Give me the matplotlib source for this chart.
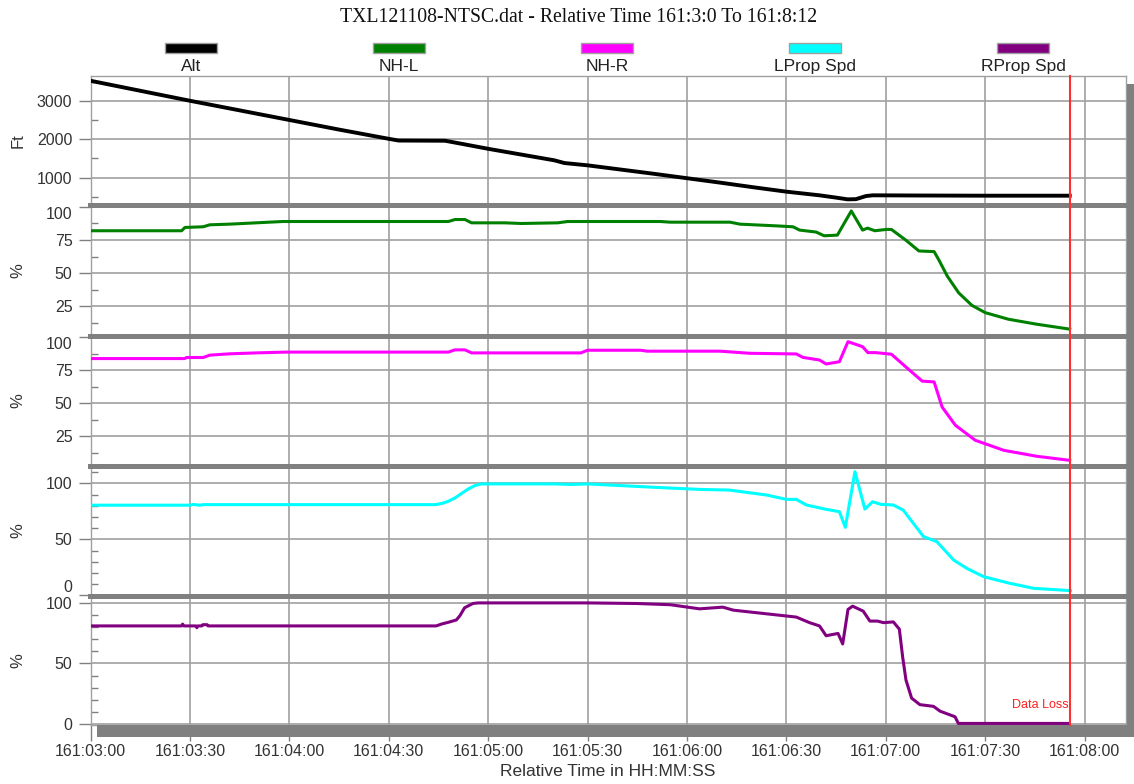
import matplotlib
matplotlib.use("Agg")
import matplotlib.pyplot as plt
from matplotlib.patches import Rectangle
from matplotlib.lines import Line2D
from matplotlib.ticker import MultipleLocator

# ---- data (seconds after 161:03:00) ----
alt_t = [0, 15, 30, 45, 60, 75, 90, 93, 107, 112, 120, 130, 140, 143, 150, 160, 170, 180, 190, 200,
         210, 220, 225, 228.5, 231, 234, 236, 250, 270, 295.5]
alt_v = [3520, 3260, 3000, 2750, 2500, 2250, 2010, 1965, 1960, 1880, 1750, 1600, 1450, 1380, 1320, 1210,
         1100, 985, 870, 750, 635, 540, 480, 435, 440, 520, 540, 535, 530, 530]

nhl_t = [0, 27.5, 28.5, 34, 36, 42, 50, 58, 108, 110, 113, 115, 125, 130, 141, 144, 172, 175, 193, 196,
         207, 212, 214, 219, 221.4, 225.4, 229.6, 233, 234.5, 236.7, 240.2, 241.7, 246, 250, 254.6, 256,
         258.6, 262, 266, 270, 277, 285.5, 295.5]
nhl_v = [82, 82, 84.5, 85, 86.5, 87, 88, 89, 89, 90.5, 90.5, 88, 88, 87.5, 88, 89, 89, 88.5, 88.5, 87,
         85.7, 85, 82.5, 81, 78.2, 78.7, 97, 82.5, 84, 82, 83, 83, 75, 66.7, 66.2, 60,
         47.5, 35, 25.5, 20, 15, 11.25, 7.5]

nhr_t = [0, 28.4, 29, 34, 36, 42, 50, 59, 108, 110, 113, 115, 148, 150, 166, 168, 190, 199, 213, 215,
         220, 222, 226, 228.6, 233, 234.6, 237, 241.7, 246, 251, 254.6, 257, 261, 267, 275.6, 285.5, 295.5]
nhr_v = [83.7, 83.7, 84.5, 84.5, 86.3, 87.3, 88, 88.6, 88.6, 90.3, 90.3, 88, 88, 90, 90, 89.3, 89.3, 87.7,
         87.2, 84.6, 82.6, 79.6, 81.3, 96.5, 92.7, 88.2, 88.2, 87, 77.5, 66.6, 66, 47, 33.2, 21.8, 14.2,
         9.7, 6.6]

lprop_t = [0, 30, 31, 33, 34, 104, 106, 108, 110, 112, 114, 116, 118, 140, 145, 150, 160, 170, 183.8,
           192.8, 204, 210, 213, 216, 222, 226, 227.8, 230.7, 233.7, 236, 238.5, 242.3, 245.3, 251.4,
           255.4, 260.5, 264.5, 269.5, 277.5, 284.6, 295.7]
lprop_v = [80.5, 80.5, 81.2, 80.5, 81, 81, 82, 84, 87, 91, 95, 98, 99.5, 99.5, 99, 99.5, 98, 96.5, 94.6,
           94, 89.6, 85.7, 85.7, 80.7, 76.8, 74.7, 60.7, 110.4, 77, 83.6, 81.25, 80.7, 76, 52.4,
           48, 31.5, 24, 16.7, 10.7, 6.25, 4.2]

rprop_t = [0, 27.5, 27.8, 28.2, 31.8, 32.1, 32.4, 33.6, 33.9, 35.2, 35.5, 104.3, 106, 108, 110.4, 111.5,
           112.9, 115.4, 117, 150, 165, 175, 183.8, 190.8, 194, 204, 213, 217, 220, 222, 225.6, 227,
           228.6, 230, 233.2, 235.2, 237.5, 239.3, 242.3, 244.1, 245.1, 246.1, 247.8, 250.3, 254.4,
           256.4, 260.9, 261.9, 295.2]
rprop_v = [81, 81, 82.5, 81, 81, 79.5, 81, 81, 82, 82, 81, 81, 82.6, 84, 85.9, 89.5, 96, 99.5, 100, 100,
           99.5, 98.5, 95.1, 96.5, 94, 91, 88.3, 83.7, 81, 72.9, 74.8, 66.1, 94.6, 97.3, 93.2, 85, 85,
           83.7, 84.3, 78.3, 55.3, 36.3, 21.4, 16, 14.6, 10.6, 6, 0.5, 0.5]

series_names = ["Alt", "NH-L", "NH-R", "LProp Spd", "RProp Spd"]
series_colors = ["#000000", "#008000", "#ff00ff", "#00ffff", "#800080"]

tick_seconds = [0, 30, 60, 90, 120, 150, 180, 210, 240, 270, 300]
tick_labels = ["161:03:00", "161:03:30", "161:04:00", "161:04:30", "161:05:00", "161:05:30",
               "161:06:00", "161:06:30", "161:07:00", "161:07:30", "161:08:00"]
data_loss_t = 295.5

title = "TXL121108-NTSC.dat - Relative Time 161:3:0 To 161:8:12"

# ---- layout (pixels) ----
W, H = 1134, 784
LEFT, RIGHT = 90.5, 1126
edges = [76, 205, 336, 466, 596, 725]
GRID = "#a0a0a0"
SHADOW = "#808080"
TXT = "#333333"

plt.rcParams["font.family"] = ["Liberation Sans", "DejaVu Sans"]
fig = plt.figure(figsize=(W / 100, H / 100), dpi=100)
fig.patch.set_facecolor("white")


def fig_rect(x0, y0, x1, y1, **kw):
    r = Rectangle((x0 / W, 1 - y1 / H), (x1 - x0) / W, (y1 - y0) / H,
                  transform=fig.transFigure, **kw)
    fig.patches.append(r)
    return r


panels = [
    (alt_t, alt_v, 2.8, (288, 3644), [1000, 2000, 3000], 500, "Ft"),
    (nhl_t, nhl_v, 2.2, (2.3, 101.5), [25, 50, 75, 100], 12.5, "%"),
    (nhr_t, nhr_v, 2.2, (2.3, 100.8), [25, 50, 75, 100], 12.5, "%"),
    (lprop_t, lprop_v, 2.2, (-0.6, 115.5), [0, 50, 100], 10, "%"),
    (rprop_t, rprop_v, 2.2, (-0.8, 105.7), [0, 50, 100], 10, "%"),
]

axes = []
for i, (t, v, lw, ylim, major, minor, ylab) in enumerate(panels):
    top, bot = edges[i], edges[i + 1]
    ax = fig.add_axes([LEFT / W, 1 - bot / H, (RIGHT - LEFT) / W, (bot - top) / H])
    ax.plot(t, v, color=series_colors[i], lw=lw, zorder=3)
    ax.set_xlim(0, 312.5)
    ax.set_ylim(*ylim)
    ax.set_xticks(tick_seconds)
    ax.set_yticks(major, [str(m) for m in major])
    ax.yaxis.set_minor_locator(MultipleLocator(minor))
    ax.grid(True, which="major", color=GRID, lw=1.2)
    ax.set_axisbelow(True)
    for s in ax.spines.values():
        s.set_color(GRID)
        s.set_linewidth(1)
    ax.tick_params(axis="y", which="major", direction="out", length=8.5, width=1,
                   color=SHADOW, labelcolor=TXT, labelsize=11.5, pad=4.5)
    ax.tick_params(axis="y", which="minor", direction="in", length=5, width=1, color=SHADOW)
    if i < 4:
        ax.tick_params(axis="x", bottom=False, labelbottom=False)
    else:
        ax.set_xticklabels(tick_labels)
        ax.tick_params(axis="x", direction="out", length=11.5, width=1, color=SHADOW,
                       labelcolor=TXT, labelsize=11.5, pad=2.5)
        ax.text(data_loss_t - 0.4, 15.5, "Data Loss", color="#ff2020", fontsize=9,
                ha="right", va="center")
    labs = ax.get_yticklabels()
    if i in (1, 2):
        labs[-1].set_va("top")
    if i == 3:
        labs[0].set_va("bottom")
    fig.text(18 / W, 1 - (top + bot) / 2 / H, ylab, rotation=90, ha="center", va="center",
             fontsize=12, color=TXT)
    axes.append(ax)

# thick gray separators and drop shadow
for b in edges[1:-1]:
    fig_rect(88, b - 2.5, 1134, b + 2.5, facecolor=SHADOW, edgecolor="none")
fig_rect(1127, 84, 1134, 737, facecolor=SHADOW, edgecolor="none")
fig_rect(97, 725, 1134, 737, facecolor=SHADOW, edgecolor="none")

# data loss marker across all panels
xd = axes[-1].transData.transform((data_loss_t, 0))[0] / fig.bbox.width
fig.lines.append(Line2D([xd, xd], [1 - edges[-1] / H, 1 - edges[0] / H], transform=fig.transFigure,
                        color="#ff3030", lw=1.5, zorder=2))

# legend
for i, (name, col) in enumerate(zip(series_names, series_colors)):
    cx = 191 + 208 * i
    fig_rect(cx - 26, 42.5, cx + 26, 53, facecolor=col, edgecolor=GRID, lw=1)
    fig.text(cx / W, 1 - 66.5 / H, name, ha="center", va="center", fontsize=12.5, color="#222222")

fig.text(579 / W, 1 - 18 / H, title, ha="center", va="center", fontsize=14.2,
         family=["Liberation Serif", "DejaVu Serif"], color="#111111")
fig.text(608 / W, 1 - 772 / H, "Relative Time in HH:MM:SS", ha="center", va="center",
         fontsize=12.5, color=TXT)

fig.savefig("out.png", dpi=100)
